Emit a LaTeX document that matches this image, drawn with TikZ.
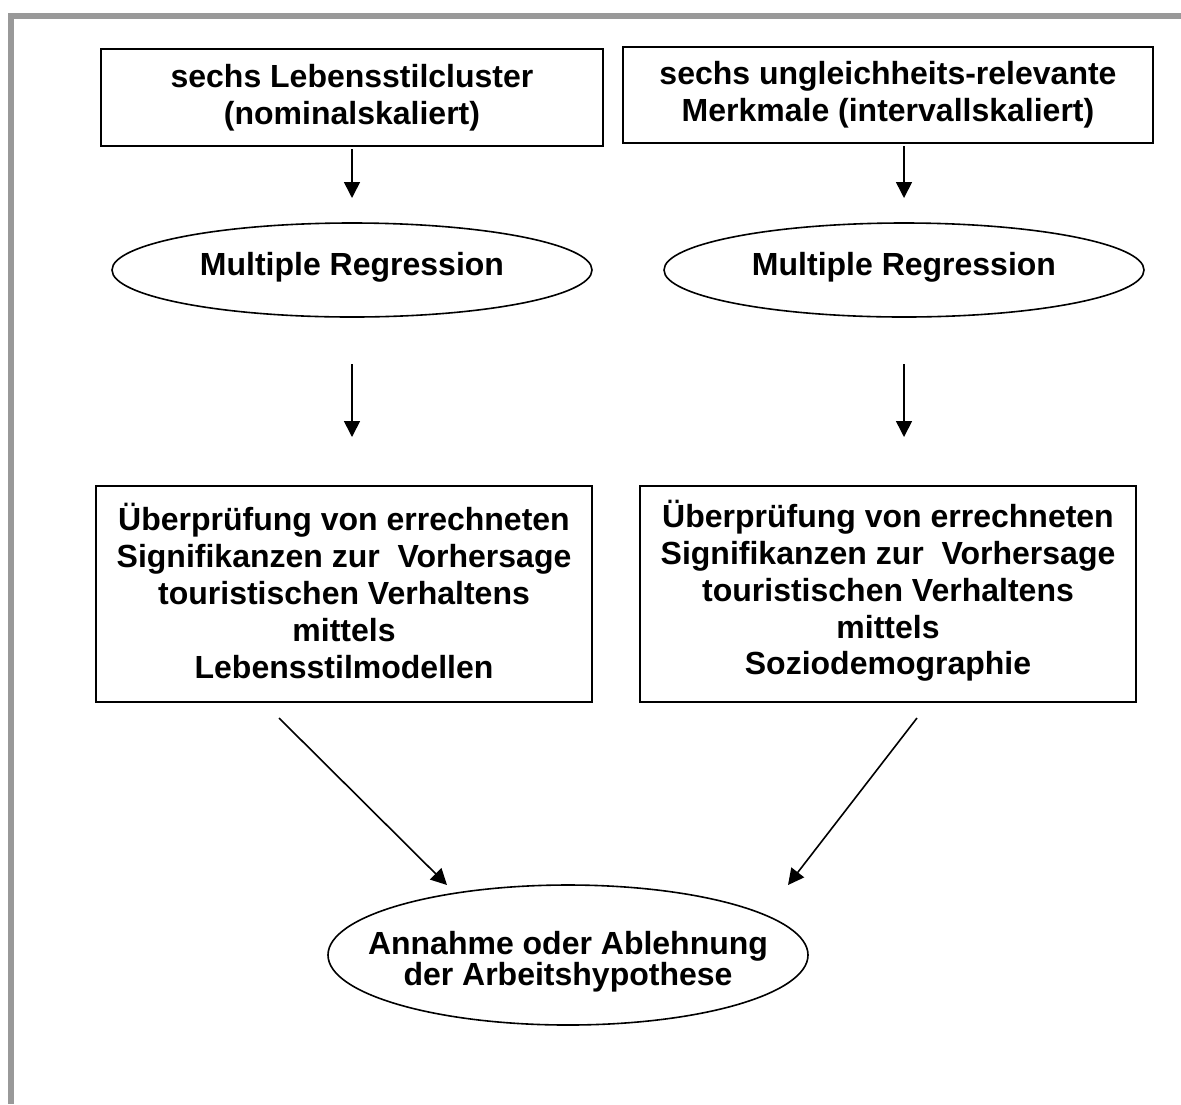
\documentclass[tikz,border=0pt]{standalone}
\usepackage{fontspec}
\setmainfont{Liberation Sans}
\usetikzlibrary{arrows.meta,shapes.geometric}
\begin{document}
\begin{tikzpicture}[x=0.5pt,y=-0.5pt,
  every node/.style={font=\fontsize{16}{18.4}\selectfont\bfseries, align=center,
    inner sep=0pt, outer sep=0pt, line width=0.8pt},
  stepbox/.style={draw, rectangle},
  oval/.style={draw, ellipse, minimum width=240pt},
  arr/.style={line width=0.8pt, -{Triangle[length=8pt,width=8pt]}},
  frame/.style={fill=black!40, draw=none}]
  \useasboundingbox (0,0) rectangle (1181,1104);
  % grey frame along the top and left edges
  \fill[frame] (8,13) rectangle (1181,19);
  \fill[frame] (8,13) rectangle (14,1104);

  % input boxes
  \node[stepbox, minimum width=251pt, minimum height=48.5pt] (b1) at (352,97.5)
    {sechs Lebensstilcluster\\(nominalskaliert)};
  \node[stepbox, minimum width=265pt, minimum height=48pt] (b2) at (888,95)
    {sechs ungleichheits-relevante\\Merkmale (intervallskaliert)};

  % regression ellipses
  \node[oval, minimum height=47pt] (r1) at (352,270) {};
  \node (r1t) at (352,267) {Multiple Regression};
  \node[oval, minimum height=47pt] (r2) at (904,270) {};
  \node (r2t) at (904,267) {Multiple Regression};

  % result boxes
  \node[stepbox, minimum width=248pt, minimum height=108pt] (c1) at (344,594) {};
  \node (c1t) at (344,591)
    {Überprüfung von errechneten\\Signifikanzen zur~ Vorhersage\\touristischen Verhaltens\\mittels\\Lebensstilmodellen};
  \node[stepbox, minimum width=248pt, minimum height=108pt] (c2) at (888,594) {};
  \node (c2t) at (888,591)
    {Überprüfung von errechneten\\Signifikanzen zur~ Vorhersage\\touristischen Verhaltens\\mittels\\Soziodemographie};

  % final decision
  \node[oval, minimum height=70pt] (h) at (568,955) {};
  \node[font=\fontsize{16}{15.6}\selectfont\bfseries] (ht) at (568,962)
    {Annahme oder Ablehnung\\der Arbeitshypothese};

  % connectors
  \draw[arr, shorten <=1.5pt, shorten >=12.5pt] (b1.south) -- (r1.north);
  \draw[arr, shorten <=1.5pt, shorten >=12.5pt] (b2.south -| r2.north) -- (r2.north);
  \draw[arr, shorten <=23.5pt, shorten >=24.5pt] (r1.south) -- (r1.south |- c1.north);
  \draw[arr, shorten <=23.5pt, shorten >=24.5pt] (r2.south) -- (r2.south |- c2.north);
  \coordinate (s1) at (279,718);
  \coordinate (e1) at (447,885);
  \coordinate (s2) at (917,718);
  \coordinate (e2) at (788,885);
  \draw[arr] (s1) -- (e1);
  \draw[arr] (s2) -- (e2);
\end{tikzpicture}
\end{document}
